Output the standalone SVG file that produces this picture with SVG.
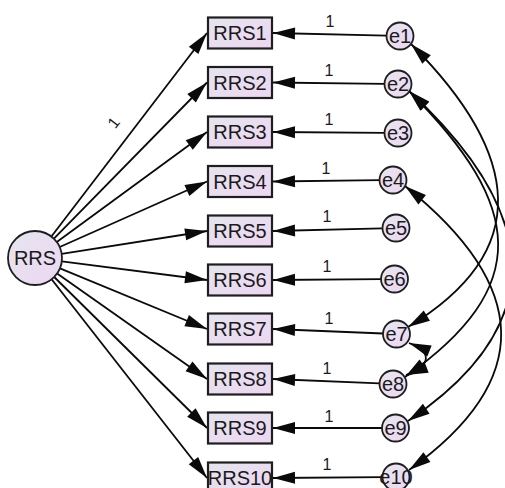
<svg xmlns="http://www.w3.org/2000/svg" width="505" height="488" viewBox="0 0 505 488">
<style>
.box{fill:url(#gb);stroke:#1e1e1e;stroke-width:2.2}
.lat{fill:url(#gc);stroke:#1e1e1e;stroke-width:1.8}
.t{font-family:"Liberation Sans",Arial,sans-serif;font-size:20px;fill:#1a1a1a;text-anchor:middle}
.n{font-family:"Liberation Sans",Arial,sans-serif;font-size:16px;fill:#1a1a1a;text-anchor:middle}
.p{fill:none;stroke:#0a0a0a;stroke-width:1.8;marker-end:url(#ah)}
.c{fill:none;stroke:#0a0a0a;stroke-width:1.8;marker-start:url(#ah);marker-end:url(#ah)}
</style>
<defs>
<linearGradient id="gb" x1="0" y1="0" x2="1" y2="1">
<stop offset="0" stop-color="#e4e4ee"/>
<stop offset="1" stop-color="#eed6f2"/>
</linearGradient>
<linearGradient id="gc" x1="0" y1="0" x2="1" y2="1">
<stop offset="0" stop-color="#e6e6f0"/>
<stop offset="1" stop-color="#edd6f1"/>
</linearGradient>
<marker id="ah" markerUnits="userSpaceOnUse" markerWidth="22" markerHeight="13" refX="22" refY="6.5" orient="auto-start-reverse" overflow="visible">
<path d="M0,0.5 L22,6.5 L0,12.5 z" fill="#0a0a0a"/>
</marker>
</defs>

<g id="connectors">
<line class="p" x1="51.4" y1="236.5" x2="207" y2="33"/>
<line class="p" x1="53.9" y1="238.7" x2="207" y2="82.5"/>
<line class="p" x1="56.8" y1="242" x2="207" y2="132"/>
<line class="p" x1="59.7" y1="247" x2="207" y2="181.5"/>
<line class="p" x1="61.7" y1="253.8" x2="207" y2="231"/>
<line class="p" x1="61.8" y1="261.4" x2="207" y2="280"/>
<line class="p" x1="60" y1="268.3" x2="207" y2="329"/>
<line class="p" x1="57.1" y1="273.5" x2="207" y2="379"/>
<line class="p" x1="54.2" y1="277" x2="207" y2="428"/>
<line class="p" x1="51.6" y1="279.3" x2="207" y2="478"/>

<line class="p" x1="386.5" y1="35.7" x2="273" y2="33"/>
<line class="p" x1="384.5" y1="83.8" x2="273" y2="82.5"/>
<line class="p" x1="384.5" y1="132.9" x2="273" y2="132"/>
<line class="p" x1="379.5" y1="180.2" x2="273" y2="181.5"/>
<line class="p" x1="382.5" y1="228.3" x2="273" y2="231"/>
<line class="p" x1="381" y1="279.1" x2="273" y2="280"/>
<line class="p" x1="383" y1="333.5" x2="273" y2="329"/>
<line class="p" x1="379.5" y1="383.4" x2="273" y2="379"/>
<line class="p" x1="382" y1="428" x2="273" y2="428"/>
<line class="p" x1="382.5" y1="477.1" x2="273" y2="478"/>

<path class="c" d="M411,44 C521,154 534,251 408,327"/>
<path class="c" d="M409,91 C524,206 533,287 405,377"/>
<path class="c" d="M409,91 C544,216 549,326 408,421"/>
<path class="c" d="M405,186 C530,286 535,380 409,470"/>
<path class="c" d="M409,343 C432,352 432,365 406,375"/>

<text class="n" x="114" y="128" transform="rotate(-52 114 123)">1</text>
<text class="n" x="330" y="27">1</text>
<text class="n" x="329" y="76">1</text>
<text class="n" x="329" y="125">1</text>
<text class="n" x="326" y="173.5">1</text>
<text class="n" x="327" y="222">1</text>
<text class="n" x="327" y="272">1</text>
<text class="n" x="329" y="323.5">1</text>
<text class="n" x="327" y="373.5">1</text>
<text class="n" x="329" y="422">1</text>
<text class="n" x="327" y="470">1</text>
</g>

<g id="RRS"><circle class="lat" cx="35" cy="258" r="27"/><text class="t" x="35" y="265">RRS</text></g>

<g id="RRS1"><rect class="box" x="208" y="17.5" width="64" height="31"/><text class="t" x="240" y="40">RRS1</text></g>
<g id="RRS2"><rect class="box" x="208" y="67" width="64" height="31"/><text class="t" x="240" y="89.5">RRS2</text></g>
<g id="RRS3"><rect class="box" x="208" y="116.5" width="64" height="31"/><text class="t" x="240" y="139">RRS3</text></g>
<g id="RRS4"><rect class="box" x="208" y="166" width="64" height="31"/><text class="t" x="240" y="188.5">RRS4</text></g>
<g id="RRS5"><rect class="box" x="208" y="215.5" width="64" height="31"/><text class="t" x="240" y="238">RRS5</text></g>
<g id="RRS6"><rect class="box" x="208" y="264.5" width="64" height="31"/><text class="t" x="240" y="287">RRS6</text></g>
<g id="RRS7"><rect class="box" x="208" y="313.5" width="64" height="31"/><text class="t" x="240" y="336">RRS7</text></g>
<g id="RRS8"><rect class="box" x="208" y="363.5" width="64" height="31"/><text class="t" x="240" y="386">RRS8</text></g>
<g id="RRS9"><rect class="box" x="208" y="412.5" width="64" height="31"/><text class="t" x="240" y="435">RRS9</text></g>
<g id="RRS10"><rect class="box" x="208" y="462.5" width="64" height="31"/><text class="t" x="240" y="485">RRS10</text></g>

<g id="e1"><circle class="lat" cx="400" cy="36" r="13.5"/><text class="t" x="400" y="43">e1</text></g>
<g id="e2"><circle class="lat" cx="398" cy="84" r="13.5"/><text class="t" x="398" y="91">e2</text></g>
<g id="e3"><circle class="lat" cx="398" cy="133" r="13.5"/><text class="t" x="398" y="140">e3</text></g>
<g id="e4"><circle class="lat" cx="393" cy="180" r="13.5"/><text class="t" x="393" y="187">e4</text></g>
<g id="e5"><circle class="lat" cx="396" cy="228" r="13.5"/><text class="t" x="396" y="235">e5</text></g>
<g id="e6"><circle class="lat" cx="394.5" cy="279" r="13.5"/><text class="t" x="394.5" y="286">e6</text></g>
<g id="e7"><circle class="lat" cx="396.5" cy="334" r="13.5"/><text class="t" x="396.5" y="341">e7</text></g>
<g id="e8"><circle class="lat" cx="393" cy="384" r="13.5"/><text class="t" x="393" y="391">e8</text></g>
<g id="e9"><circle class="lat" cx="395.5" cy="428" r="13.5"/><text class="t" x="395.5" y="435">e9</text></g>
<g id="e10"><circle class="lat" cx="396" cy="477" r="13.5"/><text class="t" x="396" y="484">e10</text></g>
</svg>
